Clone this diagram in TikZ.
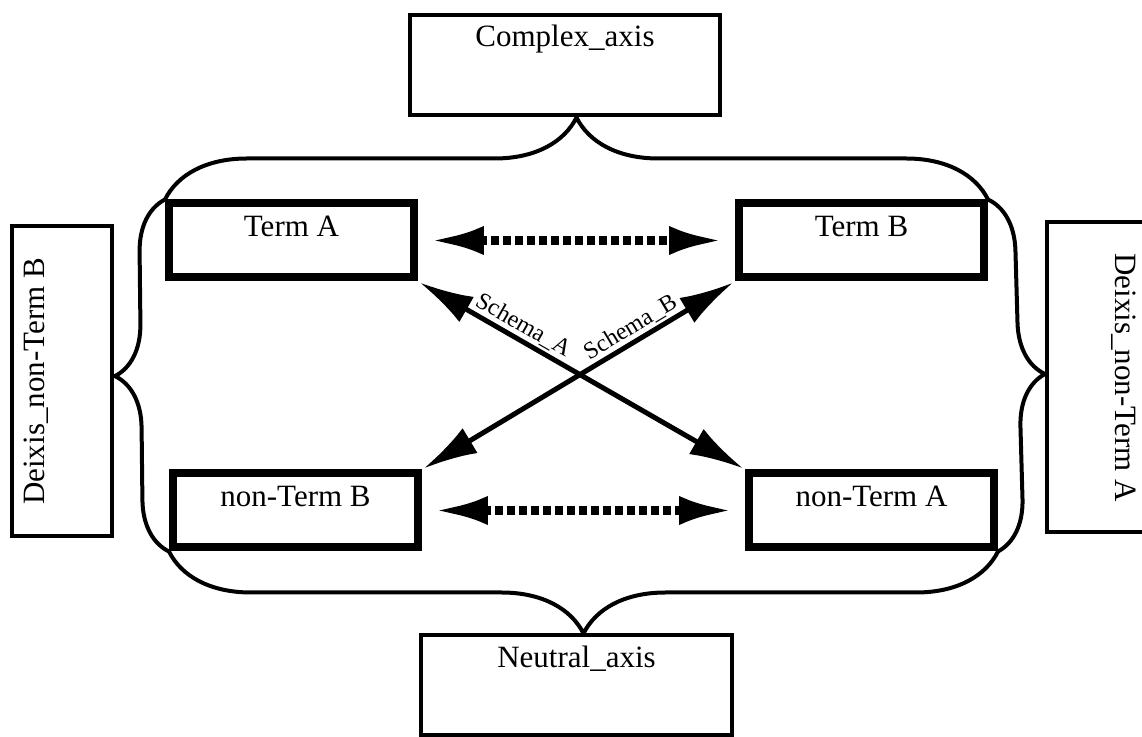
\documentclass[tikz,border=0pt]{standalone}
\usepackage{fontspec}
\setmainfont{Liberation Serif}
\usepackage{tikz}
\usetikzlibrary{arrows.meta,decorations.pathreplacing}
\tikzstyle{termbox} = [rectangle, draw, line width=4pt, minimum width=122.5pt,
    text height=16.5pt, text depth=20.5pt, inner sep=0pt, font=\fontsize{15.5}{18}\selectfont]
\tikzstyle{axisbox} = [rectangle, draw, line width=2pt, minimum width=155pt,
    text height=16pt, text depth=34pt, inner sep=0pt, font=\fontsize{15.5}{18}\selectfont]
\tikzstyle{hbrace} = [decorate, decoration={brace, amplitude=41pt}, line width=2pt, line join=round]
\tikzstyle{vbrace} = [decorate, decoration={brace, amplitude=26pt}, line width=2pt, line join=round]
\tikzstyle{dotline} = [<->, line width=4.5pt, dash pattern=on 4pt off 2pt,
    shorten <=6pt, shorten >=6pt]
\tikzstyle{schema} = [<->, line width=2.5pt, shorten <=1pt, shorten >=1pt]
\tikzstyle{slabel} = [inner sep=1pt, font=\fontsize{12}{14}\selectfont]

\begin{document}
\begin{tikzpicture}[x=1pt, y=1pt, node distance=285pt, >={Latex[length=27pt,width=14.5pt]}]
		\useasboundingbox (-145.75,-248.25) rectangle (425.25,120.25);
		
		\node [termbox] (termA) {Term A};
		\node [termbox, right of=termA] (termB) {Term B};
		\node [termbox, below of=termA, node distance=135pt, xshift=2pt] (ntermB) {non-Term B};
		\node [termbox, right of=ntermB, node distance=288pt] (ntermA) {non-Term A};
		
		\node [axisbox] (complex) at (136.75,87.75) {Complex\_axis};
		\node [axisbox] (neutral) at (142.5,-222.5) {Neutral\_axis};
		\node [axisbox, rotate=90] (deixisB) at (-114.5,-70.5) {Deixis\_non-Term B};
		\node [axisbox, rotate=-90] (deixisA) at (402.75,-68.5) {Deixis\_non-Term A};
		
		\draw [hbrace] (termA.north west) -- (termB.north east);
		\draw [vbrace] (termB.north east) -- (ntermA.south east);
		\draw [hbrace] (ntermA.south east) -- (ntermB.south west);
		\draw [vbrace] (ntermB.south west) -- (termA.north west);
		
		\draw [dotline] (termA) -- (termB);
		\draw [dotline] (ntermB) -- (ntermA);
		\draw [schema] (termA.south east) -- node [pos=0.3, sloped, above, slabel] {Schema\_A} (ntermA.north west);
		\draw [schema] (termB.south west) -- node [pos=0.31, sloped, above, slabel] {Schema\_B} (ntermB.north east);
		
\end{tikzpicture}
\end{document}
